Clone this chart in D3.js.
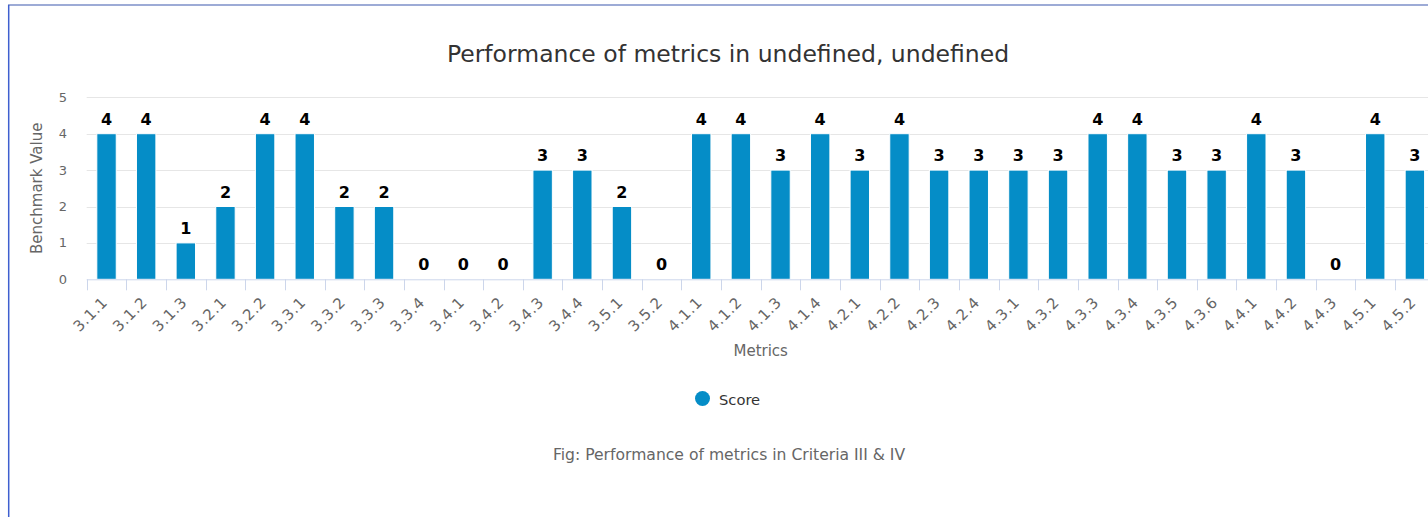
<!DOCTYPE html>
<html>
<head>
<meta charset="utf-8">
<script src="https://cdn.jsdelivr.net/npm/d3@7"></script>
<style>
  html, body { margin: 0; padding: 0; overflow: hidden; background: #fff; }
  svg { display: block; font-family: "DejaVu Sans", sans-serif; }
</style>
</head>
<body>
<svg id="chart"></svg>
<script>
// metric codes on the x axis
var metrics = ["3.1.1", "3.1.2", "3.1.3", "3.2.1", "3.2.2", "3.3.1", "3.3.2", "3.3.3", "3.3.4",
  "3.4.1", "3.4.2", "3.4.3", "3.4.4", "3.5.1", "3.5.2", "4.1.1", "4.1.2", "4.1.3", "4.1.4",
  "4.2.1", "4.2.2", "4.2.3", "4.2.4", "4.3.1", "4.3.2", "4.3.3", "4.3.4", "4.3.5", "4.3.6",
  "4.4.1", "4.4.2", "4.4.3", "4.5.1", "4.5.2"];
// score for each metric
var scores = [4, 4, 1, 2, 4, 4, 2, 2, 0, 0, 0, 3, 3, 2, 0, 4, 4, 3, 4, 3, 4, 3, 3, 3, 3, 4, 4, 3, 3, 4, 3, 0, 4, 3];
var yTicks = [0, 1, 2, 3, 4, 5];
var seriesName = "Score";
var titleText = "Performance of metrics in undefined, undefined";
var captionText = "Fig: Performance of metrics in Criteria III & IV";

var width = 1460, height = 517;
var svg = d3.select("#chart").attr("width", width).attr("height", height);

var plotLeft = 86.7, plotRight = 1434.7, plotTop = 97.3, plotBottom = 279.3;
var barColor = "#058dc7";

var x = d3.scaleBand().domain(metrics).range([plotLeft, plotRight]).padding(0);
var y = d3.scaleLinear().domain([0, 5]).range([plotBottom, plotTop]);

// frame of the chart container (only top and left visible)
svg.append("line").attr("x1", 8).attr("x2", width).attr("y1", 5).attr("y2", 5)
  .attr("stroke", "#7d8fc9").attr("stroke-width", 1.5);
svg.append("line").attr("x1", 8.7).attr("x2", 8.7).attr("y1", 5).attr("y2", height)
  .attr("stroke", "#3f5fcf").attr("stroke-width", 1.5);

// title
svg.append("text").attr("x", 728).attr("y", 62).attr("text-anchor", "middle")
  .attr("fill", "#333").style("font-size", "23.5px").text(titleText);

// grid
svg.append("g").selectAll("line").data(yTicks.slice(1)).enter().append("line")
  .attr("x1", plotLeft).attr("x2", width)
  .attr("y1", function(d) { return Math.round(y(d)) + 0.5; })
  .attr("y2", function(d) { return Math.round(y(d)) + 0.5; })
  .attr("stroke", "#e6e6e6");

// y labels
svg.append("g").selectAll("text").data(yTicks).enter().append("text")
  .attr("x", 67).attr("y", function(d) { return y(d) + 4.5; })
  .attr("text-anchor", "end").attr("fill", "#666").style("font-size", "13px")
  .text(function(d) { return d; });

svg.append("text")
  .attr("transform", "translate(42," + ((plotTop + plotBottom) / 2) + ") rotate(-90)")
  .attr("text-anchor", "middle").attr("fill", "#666").style("font-size", "15px")
  .text("Benchmark Value");

// bars
var bw = x.bandwidth() * 0.49;
svg.append("g").selectAll("rect").data(scores).enter().append("rect")
  .attr("x", function(d, i) { return x(metrics[i]) + (x.bandwidth() - bw) / 2; })
  .attr("y", function(d) { return y(d); })
  .attr("width", bw)
  .attr("height", function(d) { return plotBottom - y(d); })
  .attr("fill", barColor).attr("stroke", "#fff").attr("stroke-width", 1);

// data labels
svg.append("g").selectAll("text").data(scores).enter().append("text")
  .attr("x", function(d, i) { return x(metrics[i]) + x.bandwidth() / 2; })
  .attr("y", function(d) { return y(d) - 9; })
  .attr("text-anchor", "middle").attr("fill", "#000")
  .style("font-size", "16px").style("font-weight", "bold")
  .text(function(d) { return d; });

// x axis line + ticks between categories
svg.append("line").attr("x1", plotLeft).attr("x2", width)
  .attr("y1", plotBottom + 0.5).attr("y2", plotBottom + 0.5).attr("stroke", "#ccd6eb");
var tickPos = metrics.map(function(m) { return x(m); }).concat([plotRight]);
svg.append("g").selectAll("line").data(tickPos).enter().append("line")
  .attr("x1", function(d) { return Math.round(d) + 0.5; })
  .attr("x2", function(d) { return Math.round(d) + 0.5; })
  .attr("y1", plotBottom).attr("y2", plotBottom + 11)
  .attr("stroke", "#ccd6eb");

// x labels, rotated
svg.append("g").selectAll("text").data(metrics).enter().append("text")
  .attr("transform", function(d) {
    return "translate(" + (x(d) + x.bandwidth() / 2 + 2) + "," + (plotBottom + 24) + ") rotate(-45)";
  })
  .attr("text-anchor", "end").attr("fill", "#666").style("font-size", "15px")
  .style("letter-spacing", "0.6px")
  .text(function(d) { return d; });

svg.append("text").attr("x", (plotLeft + plotRight) / 2).attr("y", 356)
  .attr("text-anchor", "middle").attr("fill", "#666").style("font-size", "15px")
  .text("Metrics");

// legend
svg.append("circle").attr("cx", 702.5).attr("cy", 398.5).attr("r", 7.5).attr("fill", barColor);
svg.append("text").attr("x", 719).attr("y", 404.5).attr("fill", "#333")
  .style("font-size", "14.7px").text(seriesName);

// caption
svg.append("text").attr("x", 729).attr("y", 460).attr("text-anchor", "middle")
  .attr("fill", "#666").style("font-size", "15.6px").text(captionText);
</script>
</body>
</html>
